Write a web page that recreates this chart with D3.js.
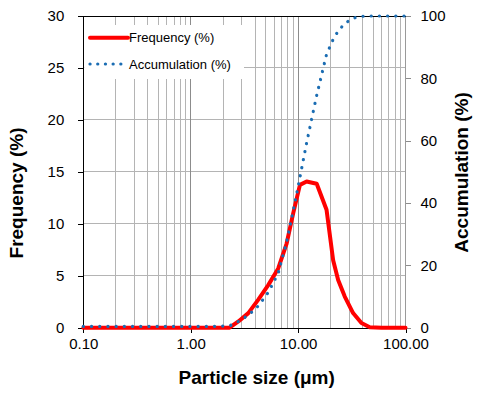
<!DOCTYPE html>
<html>
<head>
<meta charset="utf-8">
<script src="https://cdn.jsdelivr.net/npm/d3@7"></script>
<style>
  html, body { margin: 0; padding: 0; background: #fff; }
  svg { display: block; font-family: "Liberation Sans", Arial, sans-serif; }
</style>
</head>
<body>
<svg id="chart" width="482" height="398"></svg>
<script>
// ---- data ----
const sizes = [0.1, 0.2, 0.4, 0.8, 1.5, 2.3, 2.78, 3.44, 4.26, 5.27, 6.53, 7.82, 9.0, 10.4, 12.0, 14.9, 18.4, 21.2, 23.6, 27.2, 32.5, 38.9, 46.5, 60, 80, 100];
const frequency = [0, 0, 0, 0, 0, 0, 0.6, 1.4, 2.7, 4.1, 5.7, 8.1, 11.0, 13.75, 14.07, 13.85, 11.35, 6.5, 4.6, 3.0, 1.41, 0.45, 0.05, 0, 0, 0];
const accumulation = [0.4, 0.4, 0.4, 0.4, 0.4, 0.6, 2.0, 4.0, 7.0, 11.3, 17.5, 27.5, 37.4, 48.2, 59.3, 74.5, 87.7, 92.5, 95.2, 97.6, 99.3, 99.9, 100, 100, 100, 100];

const xTickValues = [0.1, 1, 10, 100];
const xTickLabels = ["0.10", "1.00", "10.00", "100.00"];
const freqTicks = [0, 5, 10, 15, 20, 25, 30];
const accTicks = [0, 20, 40, 60, 80, 100];
const seriesNames = ["Frequency (%)", "Accumulation (%)"];

// ---- layout ----
const L = 83.3, R = 405.5, T = 16, B = 327.7;
const svg = d3.select("#chart");

const x = d3.scaleLog().domain([0.1, 100]).range([L, R]);
const yF = d3.scaleLinear().domain([0, 30]).range([B, T]);
const yA = d3.scaleLinear().domain([0, 100]).range([B, T]);

// minor vertical grid (2..9 in each decade)
const minor = [];
[0.1, 1, 10].forEach(d => { for (let k = 2; k <= 9; k++) minor.push(d * k); });
svg.append("g").selectAll("line").data(minor).join("line")
  .attr("x1", d => x(d)).attr("x2", d => x(d))
  .attr("y1", T).attr("y2", B)
  .attr("stroke", "#b4b4b4").attr("stroke-width", 1).attr("shape-rendering", "crispEdges");

// horizontal grid
svg.append("g").selectAll("line").data(freqTicks.filter(d => d > 0 && d < 30)).join("line")
  .attr("x1", L).attr("x2", R)
  .attr("y1", d => yF(d)).attr("y2", d => yF(d))
  .attr("stroke", "#b4b4b4").attr("stroke-width", 1).attr("shape-rendering", "crispEdges");

// major vertical grid
svg.append("g").selectAll("line").data(xTickValues.slice(1)).join("line")
  .attr("x1", d => x(d)).attr("x2", d => x(d))
  .attr("y1", T).attr("y2", B)
  .attr("stroke", d => d === 100 ? "#9a9a9a" : "#8c8c8c").attr("stroke-width", 1).attr("shape-rendering", "crispEdges");

// top border
svg.append("line").attr("x1", L).attr("x2", R).attr("y1", T).attr("y2", T)
  .attr("stroke", "#000").attr("stroke-width", 1).attr("shape-rendering", "crispEdges");

// left axis
const leftAxis = d3.axisLeft(yF).tickValues(freqTicks).tickSize(5).tickPadding(14).tickFormat(d3.format("d"));
const gl = svg.append("g").attr("transform", `translate(${L},0)`).call(leftAxis);
gl.select(".domain").attr("stroke", "#000").attr("shape-rendering", "crispEdges");
gl.selectAll(".tick line").attr("stroke", "#000").attr("shape-rendering", "crispEdges");
gl.selectAll(".tick text").attr("font-size", 15).attr("fill", "#000").attr("font-family", "Liberation Sans, Arial, sans-serif");

// right axis (no line, gray ticks)
const rightAxis = d3.axisRight(yA).tickValues(accTicks).tickSize(5).tickPadding(10).tickFormat(d3.format("d"));
const gr = svg.append("g").attr("transform", `translate(${R},0)`).call(rightAxis);
gr.select(".domain").remove();
gr.selectAll(".tick line").attr("stroke", "#8c8c8c").attr("shape-rendering", "crispEdges");
gr.selectAll(".tick text").attr("font-size", 15).attr("fill", "#000").attr("font-family", "Liberation Sans, Arial, sans-serif");

// bottom axis
const bottomAxis = d3.axisBottom(x).tickValues(xTickValues).tickSize(5).tickPadding(6)
  .tickFormat((d, i) => xTickLabels[i]);
const gb = svg.append("g").attr("transform", `translate(0,${B})`).call(bottomAxis);
gb.select(".domain").attr("stroke", "#000").attr("shape-rendering", "crispEdges");
gb.selectAll(".tick line").attr("stroke", "#000").attr("shape-rendering", "crispEdges");
gb.selectAll(".tick text").attr("font-size", 15).attr("fill", "#000").attr("font-family", "Liberation Sans, Arial, sans-serif");

// series
const idx = d3.range(sizes.length);
const lineF = d3.line().x(i => x(sizes[i])).y(i => yF(frequency[i]));
const lineA = d3.line().x(i => x(sizes[i])).y(i => yA(accumulation[i]));

svg.append("path").attr("d", lineF(idx))
  .attr("fill", "none").attr("stroke", "#ff0000").attr("stroke-width", 4)
  .attr("stroke-linejoin", "round").attr("stroke-linecap", "round");

svg.append("path").attr("d", lineA(idx))
  .attr("fill", "none").attr("stroke", "#1b6db3").attr("stroke-width", 3.2)
  .attr("stroke-dasharray", "0.1 8.1").attr("stroke-linecap", "round");

// legend
const lg = svg.append("g");
lg.append("rect").attr("x", L + 1).attr("y", 25).attr("width", 243 - L).attr("height", 54).attr("fill", "#fff");
const legY = [37.7, 64];
lg.append("line").attr("x1", 90).attr("x2", 128).attr("y1", legY[0]).attr("y2", legY[0])
  .attr("stroke", "#ff0000").attr("stroke-width", 4).attr("stroke-linecap", "round");
lg.append("line").attr("x1", 90).attr("x2", 128).attr("y1", legY[1]).attr("y2", legY[1])
  .attr("stroke", "#1b6db3").attr("stroke-width", 3.2)
  .attr("stroke-dasharray", "0.1 7.6").attr("stroke-linecap", "round");
lg.selectAll("text").data(seriesNames).join("text")
  .attr("x", 129).attr("y", (d, i) => legY[i] + 4.6)
  .attr("font-size", 13).attr("fill", "#000")
  .text(d => d);

// axis titles
svg.append("text").attr("transform", "translate(23,193) rotate(-90)")
  .attr("text-anchor", "middle").attr("font-size", 19).attr("font-weight", "bold").attr("fill", "#000")
  .text("Frequency (%)");
svg.append("text").attr("transform", "translate(468,172.5) rotate(-90)")
  .attr("text-anchor", "middle").attr("font-size", 19).attr("font-weight", "bold").attr("fill", "#000")
  .text("Accumulation (%)");
svg.append("text").attr("x", 256.7).attr("y", 384)
  .attr("text-anchor", "middle").attr("font-size", 19).attr("font-weight", "bold").attr("fill", "#000")
  .text("Particle size (μm)");
</script>
</body>
</html>
